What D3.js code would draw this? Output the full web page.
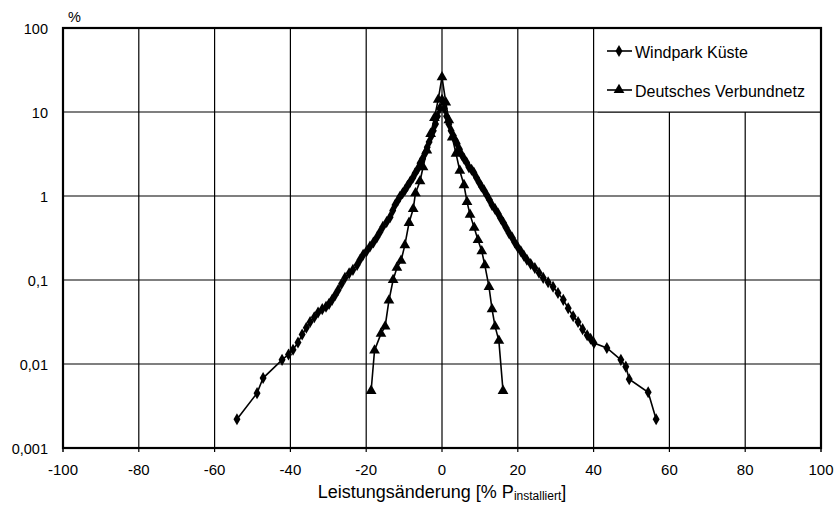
<!DOCTYPE html>
<html>
<head>
<meta charset="utf-8">
<script src="https://cdn.jsdelivr.net/npm/d3@7"></script>
<style>
  body { margin: 0; background: white; }
  text { font-family: "Liberation Sans", Arial, sans-serif; }
</style>
</head>
<body>
<div id="canvas"></div>
<script>
"use strict"

// DATA

// Windpark Küste: x = Leistungsänderung in %, y = Häufigkeit in %
let windX = [-54.1, -48.8, -47.2, -42.2, -40.5, -39.3, -38.0, -36.9, -35.8, -34.8, -33.7, -32.7, -31.6, -30.6,
  -29.8, -29.0, -28.2, -27.4, -26.5, -25.6, -24.5, -23.5, -22.4, -21.6, -20.8, -19.9, -19.0, -18.1, -17.2,
  -16.4, -15.6, -14.6, -13.7, -13.0, -12.4, -11.7, -11.1, -10.4, -9.8, -9.1, -8.4, -7.7, -7.1, -6.4, -5.8,
  -5.1, -4.5, -3.9, -3.4, -2.8, -2.3, -1.7, -1.2, -0.6, 0,
  0.6, 1.2, 1.8, 2.4, 3.0, 3.5, 4.0, 4.6, 5.2, 5.8, 6.5, 7.1, 7.8, 8.4, 9.1, 9.8, 10.4, 11.1, 11.8, 12.5,
  13.2, 14.0, 14.8, 15.5, 16.2, 16.9, 17.7, 18.5, 19.2, 20.0, 20.8, 21.6, 22.4, 23.4, 24.5, 25.6, 26.7,
  28.0, 29.3, 30.6, 32.0, 33.3, 34.6, 35.9, 37.1, 38.3, 39.2, 40.1, 43.5, 47.2, 48.5, 49.4, 54.4, 56.5];
let windY = [0.0022, 0.0045, 0.0068, 0.0112, 0.013, 0.0148, 0.018, 0.0224, 0.027, 0.0316, 0.036, 0.041, 0.045, 0.048,
  0.052, 0.058, 0.066, 0.076, 0.090, 0.106, 0.12, 0.132, 0.151, 0.175, 0.20, 0.22, 0.25, 0.28, 0.32,
  0.37, 0.43, 0.49, 0.56, 0.67, 0.78, 0.88, 0.98, 1.08, 1.17, 1.32, 1.48, 1.65, 1.86, 2.1, 2.45,
  2.8, 3.2, 3.8, 4.4, 5.2, 6.0, 7.2, 8.9, 11, 14,
  11, 8.9, 7.2, 6.0, 5.2, 4.6, 4.2, 3.6, 3.1, 2.8, 2.5, 2.2, 2.05, 1.9, 1.65, 1.45, 1.3, 1.17, 1.03, 0.9,
  0.78, 0.7, 0.62, 0.54, 0.48, 0.42, 0.36, 0.32, 0.28, 0.245, 0.22, 0.195, 0.174, 0.155, 0.139, 0.122, 0.106,
  0.094, 0.083, 0.07, 0.058, 0.046, 0.037, 0.0316, 0.026, 0.022, 0.02, 0.0178, 0.0155, 0.0112, 0.0093, 0.0066, 0.0046, 0.0022];

// Deutsches Verbundnetz
let netzX = [-18.7, -17.8, -16.1, -15.0, -14.0, -12.9, -11.9, -10.8, -9.8, -8.7, -7.6, -7.0, -5.8, -5.0, -4.0,
  -3.0, -2.0, -1.0, 0, 1.0, 1.8, 2.7, 3.7, 4.7, 5.8, 6.6, 7.4, 8.5, 9.5, 10.5, 11.3, 12.4, 13.2, 14.0, 15.0, 16.1];
let netzY = [0.0048, 0.0145, 0.023, 0.028, 0.057, 0.10, 0.14, 0.17, 0.26, 0.48, 0.70, 1.08, 1.5, 2.2, 3.5,
  5.5, 8.5, 14, 26, 13, 8, 5, 3.2, 2.0, 1.35, 0.85, 0.6, 0.42, 0.3, 0.22, 0.15, 0.083, 0.045, 0.028, 0.019, 0.0048];

let xTicks = [-100, -80, -60, -40, -20, 0, 20, 40, 60, 80, 100];
let yTicks = [0.001, 0.01, 0.1, 1, 10, 100];
let yTickLabels = ["0,001", "0,01", "0,1", "1", "10", "100"];
let seriesNames = ["Windpark Küste", "Deutsches Verbundnetz"];

/* Configuration variables: drawing */
let svgWidth = 840;
let svgHeight = 506;

let marginLeft = 63;
let marginRight = 19;
let marginTop = 28;
let marginBottom = 58;

let plotRight = svgWidth - marginRight;
let plotBottom = svgHeight - marginBottom;

let svg = d3.select("#canvas")
  .append("svg")
  .attr("width", svgWidth)
  .attr("height", svgHeight);

// SCALES
let xScale = d3.scaleLinear()
  .domain([-100, 100])
  .range([marginLeft, plotRight]);

let yScale = d3.scaleLog()
  .domain([0.001, 100])
  .range([plotBottom, marginTop]);

// GRID LINES
svg.selectAll(".vgrid")
  .data(xTicks.slice(1, -1))
  .join("line")
  .attr("class", "vgrid")
  .attr("x1", d => xScale(d))
  .attr("x2", d => xScale(d))
  .attr("y1", marginTop)
  .attr("y2", plotBottom + 4)
  .attr("stroke", "black")
  .attr("stroke-width", 1.2);

svg.selectAll(".hgrid")
  .data(yTicks.slice(1, -1))
  .join("line")
  .attr("class", "hgrid")
  .attr("x1", marginLeft)
  .attr("x2", plotRight)
  .attr("y1", d => yScale(d))
  .attr("y2", d => yScale(d))
  .attr("stroke", "black")
  .attr("stroke-width", 1.2);

// legend background covers the grid in the upper right corner
let legendLeft = xScale(40) + 4;
svg.append("rect")
  .attr("x", legendLeft)
  .attr("y", marginTop)
  .attr("width", plotRight - legendLeft)
  .attr("height", yScale(10) - marginTop)
  .attr("fill", "white");

svg.append("line")
  .attr("x1", legendLeft)
  .attr("x2", plotRight)
  .attr("y1", yScale(10))
  .attr("y2", yScale(10))
  .attr("stroke", "black")
  .attr("stroke-width", 1.2);

// tick marks under the x axis at the ends
svg.selectAll(".xtick")
  .data([-100, 100])
  .join("line")
  .attr("class", "xtick")
  .attr("x1", d => xScale(d))
  .attr("x2", d => xScale(d))
  .attr("y1", plotBottom)
  .attr("y2", plotBottom + 4)
  .attr("stroke", "black")
  .attr("stroke-width", 1.5);

// PLOT BORDER
svg.append("rect")
  .attr("x", marginLeft)
  .attr("y", marginTop)
  .attr("width", plotRight - marginLeft)
  .attr("height", plotBottom - marginTop)
  .attr("fill", "none")
  .attr("stroke", "black")
  .attr("stroke-width", 2.2);

// TICK LABELS
svg.selectAll(".xlabel")
  .data(xTicks)
  .join("text")
  .attr("class", "xlabel")
  .attr("x", d => xScale(d))
  .attr("y", plotBottom + 27)
  .attr("text-anchor", "middle")
  .style("font-size", "15px")
  .text(d => d);

svg.selectAll(".ylabel")
  .data(yTicks)
  .join("text")
  .attr("class", "ylabel")
  .attr("x", marginLeft - 15)
  .attr("y", d => yScale(d) + 5.5)
  .attr("text-anchor", "end")
  .style("font-size", "14.5px")
  .text((d, i) => yTickLabels[i]);

svg.append("text")
  .attr("x", 68)
  .attr("y", 22)
  .style("font-size", "14.5px")
  .text("%");

// axis title with subscript
let title = svg.append("text")
  .attr("x", xScale(0))
  .attr("y", plotBottom + 50)
  .attr("text-anchor", "middle")
  .style("font-size", "18px");
title.append("tspan").text("Leistungsänderung [% P");
title.append("tspan").style("font-size", "12px").attr("dy", 2).text("installiert");
title.append("tspan").attr("dy", -2).text("]");

// DATA LINES
let windData = windX.map((x, i) => ({ x: x, y: windY[i] }));
let netzData = netzX.map((x, i) => ({ x: x, y: netzY[i] }));

let line = d3.line()
  .x(d => xScale(d.x))
  .y(d => yScale(d.y));

let diamond = d3.symbol().type(d3.symbolDiamond).size(42);
let triangle = d3.symbol().type(d3.symbolTriangle).size(50);

svg.append("path")
  .attr("d", line(netzData))
  .attr("fill", "none")
  .attr("stroke", "black")
  .attr("stroke-width", 1.6);

svg.selectAll(".netz")
  .data(netzData)
  .join("path")
  .attr("class", "netz")
  .attr("transform", d => "translate(" + xScale(d.x) + "," + yScale(d.y) + ")")
  .attr("d", triangle)
  .attr("fill", "black");

svg.append("path")
  .attr("d", line(windData))
  .attr("fill", "none")
  .attr("stroke", "black")
  .attr("stroke-width", 1.6);

svg.selectAll(".wind")
  .data(windData)
  .join("path")
  .attr("class", "wind")
  .attr("transform", d => "translate(" + xScale(d.x) + "," + yScale(d.y) + ")")
  .attr("d", diamond)
  .attr("fill", "black");

// LEGEND
let legendY = [58, 97];
let legendSymbols = [diamond, triangle];
for (let i = 0; i < seriesNames.length; i++) {
  svg.append("line")
    .attr("x1", 607)
    .attr("x2", 632)
    .attr("y1", legendY[i] - 7)
    .attr("y2", legendY[i] - 7)
    .attr("stroke", "black")
    .attr("stroke-width", 1.6);
  svg.append("path")
    .attr("transform", "translate(619," + (legendY[i] - 7) + ")")
    .attr("d", legendSymbols[i])
    .attr("fill", "black");
  svg.append("text")
    .attr("x", 635)
    .attr("y", legendY[i])
    .style("font-size", "16px")
    .text(seriesNames[i]);
}
</script>
</body>
</html>
